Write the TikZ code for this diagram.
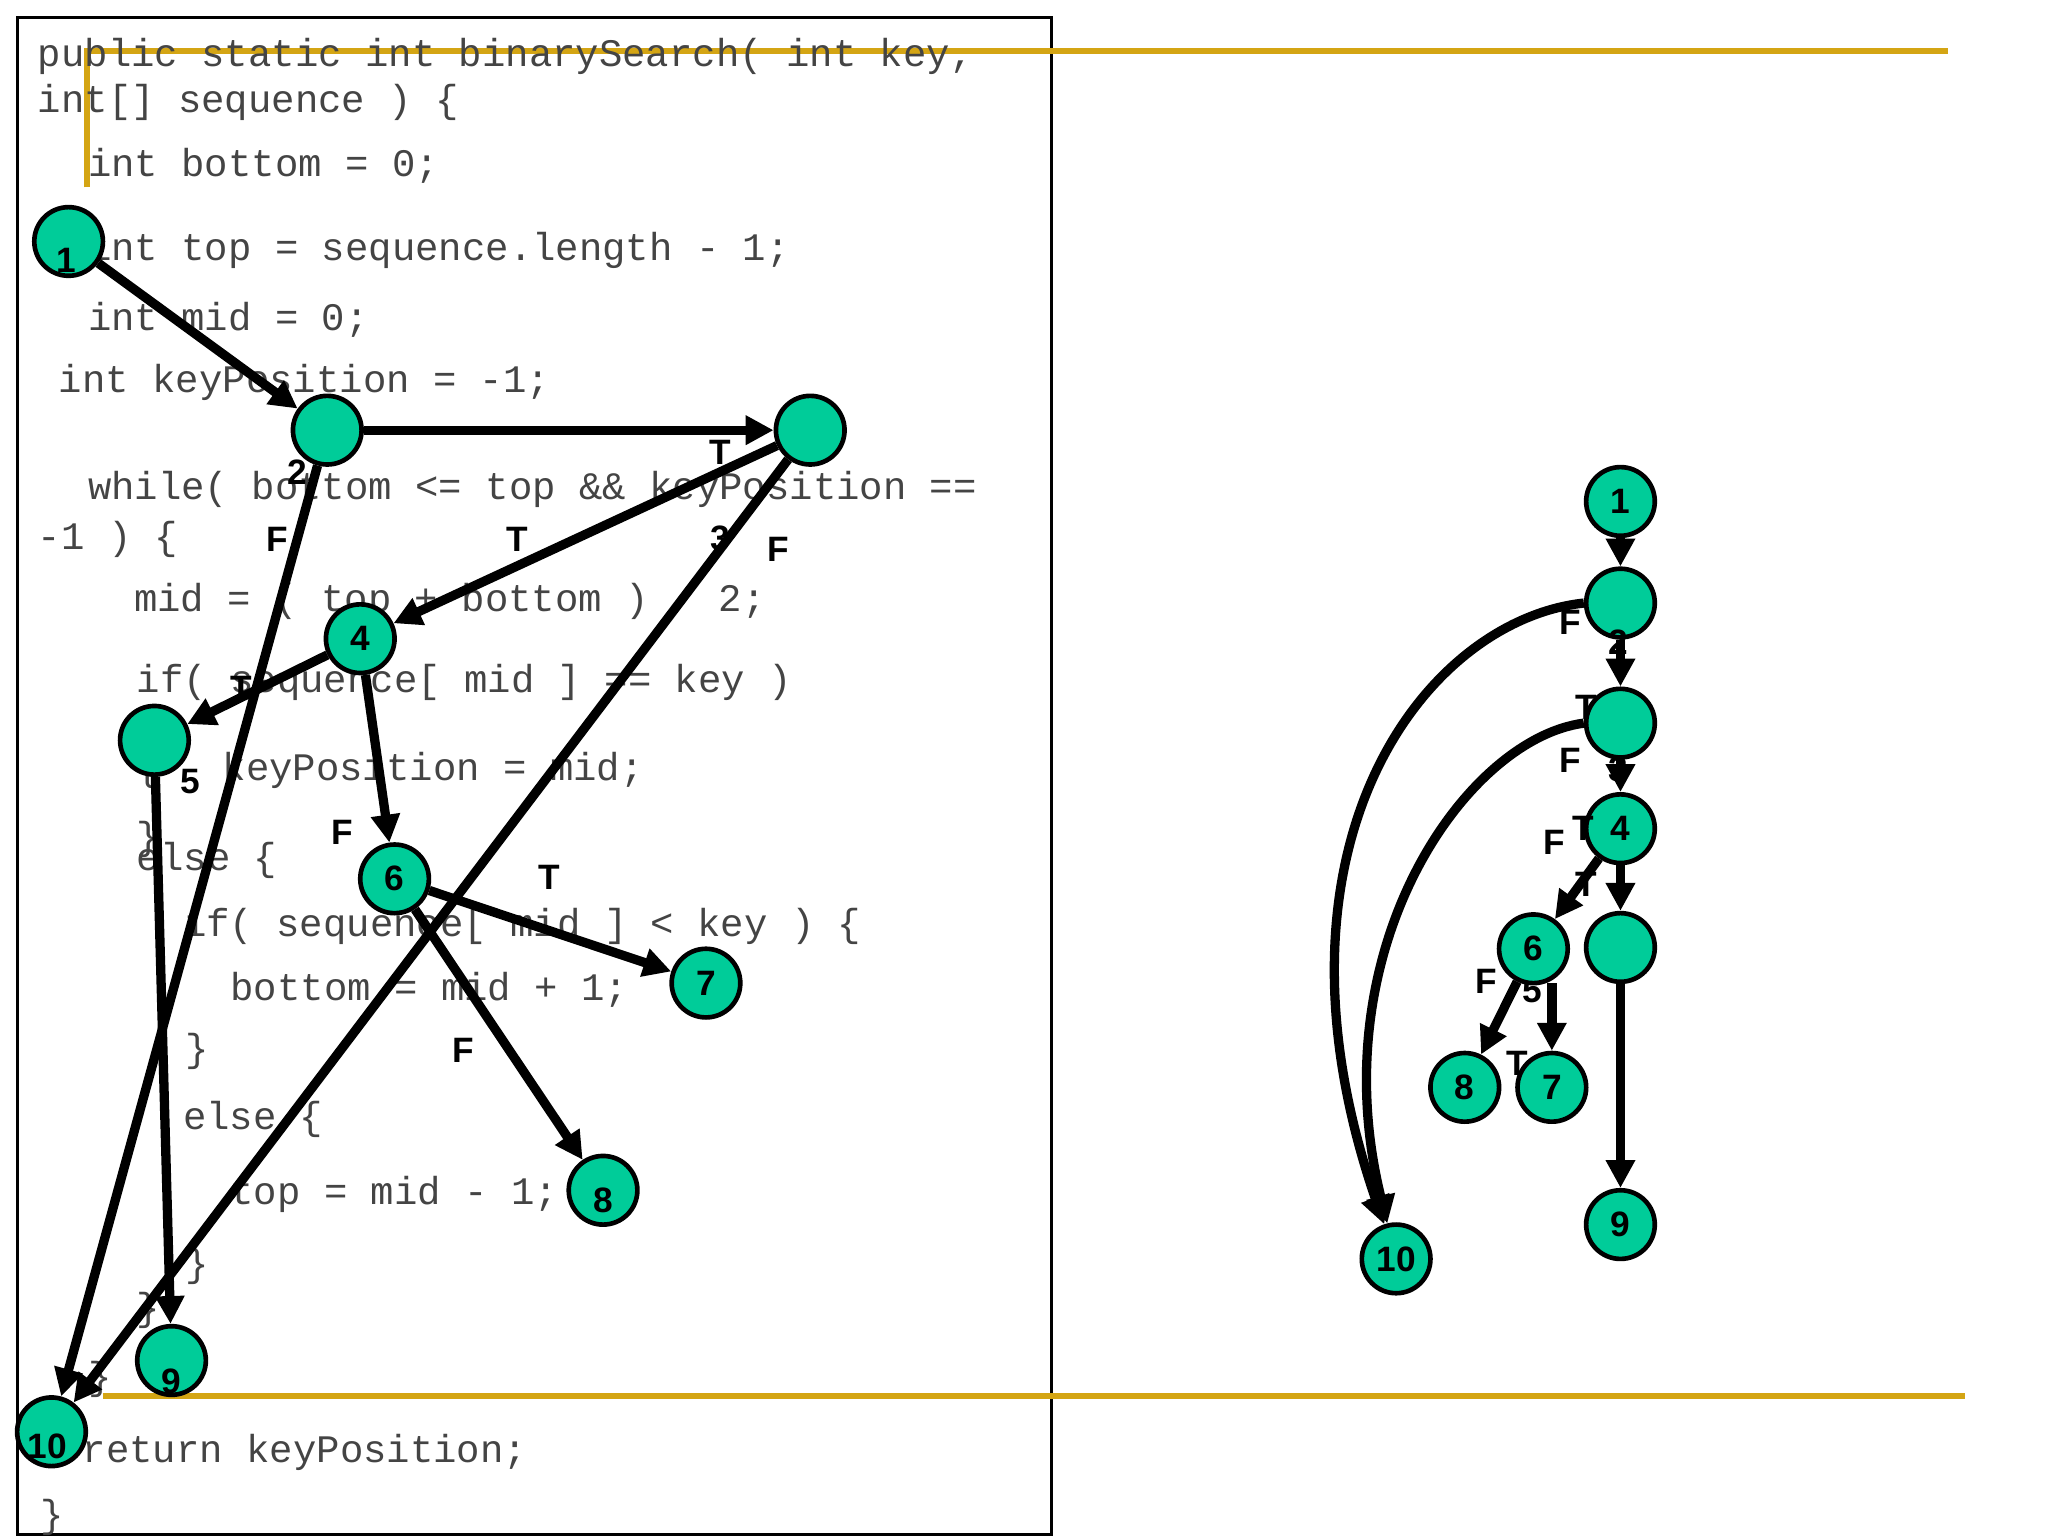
\documentclass[tikz,border=0pt]{standalone}
\usepackage{fontspec}
\setmainfont{Liberation Sans}
\setmonofont{Liberation Mono}
\usetikzlibrary{arrows.meta}
\definecolor{teal1}{HTML}{00CC99}
\definecolor{gold}{HTML}{D4A514}
\definecolor{codec}{HTML}{444444}
\begin{document}
\begin{tikzpicture}[x=0.01cm,y=-0.01cm,
  nd/.style={circle,draw=black,line width=1pt,fill=teal1,minimum size=0.52cm,inner sep=0pt},
  lb/.style={font=\fontsize{7.6}{8}\selectfont\bfseries,inner sep=0pt},
  cd/.style={anchor=west,inner sep=0pt,font=\fontsize{8.4}{10}\selectfont\ttfamily,text=codec},
  ar/.style={line width=2pt,-{Triangle[length=6pt,width=6pt]}},
  gl/.style={gold,line width=1.3pt}]
\useasboundingbox (0,0) rectangle (1552,1164);
\draw[line width=0.7pt] (13,13) rectangle (797,1163);
\draw[gl] (66,142) -- (66,39) -- (1476,39);
\draw[gl] (78,1058) -- (1489,1058);
% code
\node[cd] at (28,43) {public static int binarySearch( int key,};
\node[cd] at (28,78) {int[] sequence ) \{};
\node[cd] at (66,126) {int bottom = 0;};
\node[cd] at (66,190) {int top = sequence.length - 1;};
\node[cd] at (66,242) {int mid = 0;};
\node[cd] at (44,290) {int keyPosition = -1;};
\node[cd] at (66,371) {while( bottom <= top \&\& keyPosition ==};
\node[cd] at (28,409) {-1 ) \{};
\node[cd] at (101,456) {mid = ( top + bottom ) / 2;};
\node[cd] at (103,517) {if( sequence[ mid ] == key )};
\node[cd] at (103,584) {\{};
\node[cd] at (168,584) {keyPosition = mid;};
\node[cd] at (103,636) {\}};
\node[cd] at (103,652) {else \{};
\node[cd] at (138,702) {if( sequence[ mid ] < key ) \{};
\node[cd] at (174,750) {bottom = mid + 1;};
\node[cd] at (140,797) {\}};
\node[cd] at (138,848) {else \{};
\node[cd] at (174,905) {top = mid - 1;};
\node[cd] at (140,960) {\}};
\node[cd] at (103,993) {\}};
\node[cd] at (66,1045) {\}};
\node[cd] at (62,1101) {return keyPosition;};
\node[cd] at (30,1150) {\}};
% left graph
\node[nd] (a1) at (52,183) {}; \node[lb] at (50,197) {1};
\node[nd] (a2) at (248,326) {}; \node[lb] at (225,358) {2};
\node[nd] (a3) at (614,326) {}; \node[lb] at (546,408) {3};
\node[nd] (a4) at (273,484) {}; \node[lb] at (273,484) {4};
\node[nd] (a5) at (117,561) {}; \node[lb] at (144,592) {5};
\node[nd] (a6) at (299,666) {}; \node[lb] at (299,666) {6};
\node[nd] (a7) at (535,745) {}; \node[lb] at (535,745) {7};
\node[nd] (a8) at (457,902) {}; \node[lb] at (457,910) {8};
\node[nd] (a9) at (130,1031) {}; \node[lb] at (130,1047) {9};
\node[nd] (a10) at (39,1085) {}; \node[lb] at (36,1096) {10};
\draw[ar] (a1) -- (a2);
\draw[ar] (a2) -- (a3); \node[lb] at (546,343) {T};
\draw[ar] (a2) -- (a10); \node[lb] at (210,409) {F};
\draw[ar] (a3) -- (a4); \node[lb] at (392,409) {T};
\draw[ar] (a3) -- (a10); \node[lb] at (590,416) {F};
\draw[ar] (a4) -- (a5); \node[lb] at (183,522) {T};
\draw[ar] (a4) -- (a6); \node[lb] at (259,631) {F};
\draw[ar] (a6) -- (a7); \node[lb] at (416,665) {T};
\draw[ar] (a6) -- (a8); \node[lb] at (351,796) {F};
\draw[ar] (a5) -- (a9);
% right graph
\node[nd] (b1) at (1228,380) {}; \node[lb] at (1228,380) {1};
\node[nd] (b2) at (1228,457) {}; \node[lb] at (1226,487) {2};
\node[nd] (b3) at (1228,548) {}; \node[lb] at (1226,583) {3};
\node[nd] (b4) at (1228,628) {}; \node[lb] at (1228,628) {4};
\node[nd] (b5) at (1228,718) {}; \node[lb] at (1161,751) {5};
\node[nd] (b6) at (1162,719) {}; \node[lb] at (1162,719) {6};
\node[nd] (b7) at (1176,824) {}; \node[lb] at (1176,824) {7};
\node[nd] (b8) at (1110,824) {}; \node[lb] at (1110,824) {8};
\node[nd] (b9) at (1228,928) {}; \node[lb] at (1228,928) {9};
\node[nd] (b10) at (1058,954) {}; \node[lb] at (1058,954) {10};
\coordinate (c67) at (1176,745);
\draw[ar] (b1) -- (b2);
\draw[ar] (b2) -- (b3);
\draw[ar] (b3) -- (b4);
\draw[ar] (b4) -- (b5);
\draw[ar] (b5) -- (b9);
\draw[ar] (b4) -- (b6);
\draw[ar] (b6) -- (b8);
\draw[ar] (c67) -- (b7);
\draw[ar] (b2.west) .. controls (1080,470) and (950,640) .. (b10);
\draw[ar] (b3.west) .. controls (1110,560) and (1000,720) .. (b10);
\node[lb] at (1190,472) {F};
\node[lb] at (1202,536) {T};
\node[lb] at (1190,576) {F};
\node[lb] at (1200,628) {T};
\node[lb] at (1178,638) {F};
\node[lb] at (1202,670) {T};
\node[lb] at (1126,744) {F};
\node[lb] at (1150,806) {T};
\end{tikzpicture}
\end{document}
